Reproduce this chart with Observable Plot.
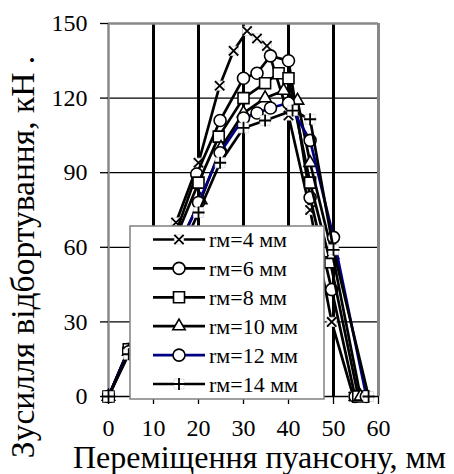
<!DOCTYPE html>
<html><head><meta charset="utf-8">
<script src="https://cdn.jsdelivr.net/npm/d3@7"></script>
<script src="https://cdn.jsdelivr.net/npm/@observablehq/plot@0.6"></script>
<style>body{margin:0;background:#fff}</style>
</head><body><div id="chart"></div>
<script>
const seriesNames = ["rм=4 мм", "rм=6 мм", "rм=8 мм", "rм=10 мм", "rм=12 мм", "rм=14 мм"];
const seriesSymbols = ["times", "circle", "square", "triangle", "circle", "plus"];
const seriesColors = ["#000", "#000", "#000", "#000", "#000080", "#000"];
const xTicks = [0, 10, 20, 30, 40, 50, 60];
const yTicks = [0, 30, 60, 90, 120, 150];
const xTitle = "Переміщення пуансону, мм";
const yTitle = "Зусилля відбортування, кН .";

const r4x = [0, 4.5, 10, 15, 20, 24.7, 27.8, 30.8, 33, 35.2, 40, 44.8, 49.6, 54.4];
const r4y = [0, 19, 44, 70, 94, 125, 139, 147, 144, 141, 113, 75, 30, 0];
const r6x = [0, 4.5, 10, 15, 19.6, 24.8, 30, 33, 36, 40, 44.8, 49.6, 54.8];
const r6y = [0, 19, 42, 66, 89.5, 111, 128, 130, 137, 135, 80, 43, 0];
const r8x = [0, 4.5, 10, 15, 20, 24.5, 30, 34.8, 37.8, 40, 44.8, 49.3, 55.5];
const r8y = [0, 19, 41, 64, 86, 104.5, 120, 126, 130, 128, 86, 54, 0];
const r10x = [0, 4.5, 10, 15, 20.5, 25, 30, 34.8, 38.9, 42, 44.8, 49.8, 56];
const r10y = [0, 18, 38, 59, 79, 100, 114, 120, 123, 119, 94, 57, 0];
const r12x = [0, 4.5, 10, 15, 20, 24.8, 30, 33, 36, 40, 44.8, 50, 57.3];
const r12y = [0, 18, 37, 57, 78, 98, 112, 114, 116, 118, 103, 64, 0];
const r14x = [0, 4.5, 10, 15, 20, 24.8, 30, 34.8, 40.9, 44.8, 50, 57.8];
const r14y = [0, 17, 35, 54, 74, 94, 108, 111, 115, 111.5, 59, 0];

const seriesX = [r4x, r6x, r8x, r10x, r12x, r14x];
const seriesY = [r4y, r6y, r8y, r10y, r12y, r14y];

const symR = {times: 4.3, circle: 6, square: 6.2, triangle: 4.6, plus: 4.0};
const bgR = {times: 5.2, plus: 5.6};

const series = seriesNames.map((name, i) => ({
  name, symbol: seriesSymbols[i], color: seriesColors[i],
  data: seriesX[i].map((x, j) => ({x, y: seriesY[i][j]}))
}));

const seriesMarks = series.flatMap(s => {
  const m = [Plot.line(s.data, {x: "x", y: "y", stroke: s.color, strokeWidth: 2.7})];
  if (bgR[s.symbol]) {
    m.push(Plot.dot(s.data, {x: "x", y: "y", symbol: "square", r: bgR[s.symbol], fill: "white", stroke: "#d8d8d8", strokeWidth: 0.8}));
    m.push(Plot.dot(s.data, {x: "x", y: "y", symbol: s.symbol, r: symR[s.symbol], stroke: "#000", strokeWidth: 1.8}));
  } else {
    m.push(Plot.dot(s.data, {x: "x", y: "y", symbol: s.symbol, r: symR[s.symbol], fill: "white", stroke: "#000", strokeWidth: 1.6}));
  }
  return m;
});

const plot = Plot.plot({
  width: 454, height: 474,
  marginLeft: 108, marginRight: 76, marginTop: 23, marginBottom: 78,
  x: {domain: [0, 60]},
  y: {domain: [0, 150]},
  style: {fontFamily: "'Liberation Serif', 'Times New Roman', serif", background: "white", color: "#000"},
  marks: [
    Plot.ruleY(yTicks.slice(1, -1), {stroke: "#000", strokeWidth: 1.3}),
    Plot.ruleX(xTicks.slice(1, -1), {stroke: "#000", strokeWidth: 3}),
    Plot.ruleY([150], {stroke: "#888", strokeWidth: 2.5}),
    Plot.ruleX([60], {stroke: "#888", strokeWidth: 3}),
    Plot.ruleX([0], {stroke: "#888", strokeWidth: 2.5}),
    Plot.ruleY([0], {stroke: "#000", strokeWidth: 1.5}),
    Plot.axisY({ticks: yTicks, tickSize: 8, tickPadding: 13, fontSize: 24, strokeWidth: 1.3, label: null, tickFormat: d => String(d)}),
    Plot.axisX({ticks: xTicks, tickSize: 8, tickPadding: 14, fontSize: 24, strokeWidth: 1.3, label: null, tickFormat: d => String(d)}),
    ...seriesMarks,
    Plot.text([yTitle], {text: d => d, frameAnchor: "left", textAnchor: "middle", lineAnchor: "middle", rotate: -90, dx: -85, dy: 47, fontSize: 33.5, fill: "#000"}),
    Plot.text([xTitle], {text: d => d, frameAnchor: "bottom", textAnchor: "middle", lineAnchor: "middle", dx: 16, dy: 61, fontSize: 32, fill: "#000"})
  ]
});

// legend overlay
const svg = d3.select(plot);
const g = svg.append("g");
g.append("rect").attr("x", 130).attr("y", 226).attr("width", 194).attr("height", 173)
  .attr("fill", "white").attr("stroke", "#808080").attr("stroke-width", 1.5);
const d3sym = {times: d3.symbolTimes, circle: d3.symbolCircle, square: d3.symbolSquare, triangle: d3.symbolTriangle, plus: d3.symbolPlus};
series.forEach((s, i) => {
  const cy = 239.5 + i * 28.9;
  g.append("line").attr("x1", 153).attr("x2", 205).attr("y1", cy).attr("y2", cy)
    .attr("stroke", s.color).attr("stroke-width", 2.7);
  if (bgR[s.symbol]) {
    g.append("path").attr("d", d3.symbol(d3.symbolSquare, Math.PI * bgR[s.symbol] ** 2)())
      .attr("transform", `translate(179,${cy})`).attr("fill", "white").attr("stroke", "#d8d8d8").attr("stroke-width", 0.8);
    g.append("path").attr("d", d3.symbol(d3sym[s.symbol], Math.PI * symR[s.symbol] ** 2)())
      .attr("transform", `translate(179,${cy})`).attr("fill", "none").attr("stroke", "#000").attr("stroke-width", 1.8);
  } else {
    g.append("path").attr("d", d3.symbol(d3sym[s.symbol], Math.PI * symR[s.symbol] ** 2)())
      .attr("transform", `translate(179,${cy})`).attr("fill", "white").attr("stroke", "#000").attr("stroke-width", 1.6);
  }
  g.append("text").attr("x", 209).attr("y", cy).attr("dy", "0.35em").attr("font-size", 22)
    .attr("text-anchor", "start").attr("fill", "#000").text(s.name);
});

document.getElementById("chart").appendChild(plot);
</script>
</body></html>
